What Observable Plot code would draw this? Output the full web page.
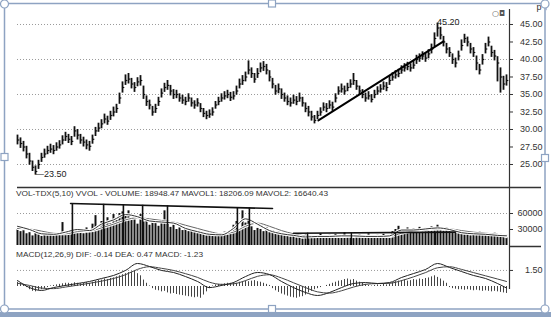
<!DOCTYPE html>
<html><head><meta charset="utf-8">
<script src="https://cdn.jsdelivr.net/npm/d3@7"></script>
<script src="https://cdn.jsdelivr.net/npm/@observablehq/plot@0.6"></script>
<style>
html,body{margin:0;padding:0;background:#fff;}
#root{position:relative;width:551px;height:317px;overflow:hidden;background:#fff;font-family:"Liberation Sans",Arial,sans-serif;}
#root > svg{position:absolute;left:0;}
</style></head><body><div id="root"></div>
<script>
// ---- price bars (one per trading day) ----
const close = [28.5,28.0,27.5,26.5,25.5,24.6,24.0,25.0,26.0,26.5,27.0,27.2,27.0,27.5,27.8,28.5,29.0,28.6,28.3,29.8,
29.2,28.5,28.2,27.8,27.6,28.6,29.8,30.2,30.8,31.5,31.2,32.0,32.5,33.0,34.5,36.0,37.0,37.2,36.5,36.0,
36.8,37.0,35.0,34.0,33.5,32.5,33.0,34.0,35.2,36.0,36.3,35.5,35.0,35.0,34.5,34.2,34.0,34.5,33.8,33.5,
33.8,33.0,32.3,32.0,32.2,32.5,33.5,34.0,34.5,34.8,35.0,34.6,34.8,35.5,36.5,37.0,37.5,38.5,38.0,37.2,
38.0,38.8,39.0,38.5,37.5,36.5,35.5,35.8,35.0,34.5,34.0,33.8,34.2,34.0,34.5,33.8,33.0,32.5,31.8,31.3,
32.0,32.5,33.2,33.0,33.5,33.2,34.5,35.5,35.8,35.5,36.0,36.5,37.0,36.2,35.5,35.0,34.5,34.8,34.3,35.0,
35.5,35.8,36.2,36.0,37.0,37.5,37.8,38.0,38.5,38.8,39.0,38.8,39.2,40.0,40.2,40.5,40.2,40.8,41.5,43.0,
44.5,43.5,42.5,41.5,41.0,40.0,39.5,40.5,42.0,43.0,42.5,41.5,41.0,39.5,38.5,40.0,41.5,42.5,41.0,40.5,
39.5,37.5,36.5,37.0];
const high = [29.2,28.8,28.3,27.6,26.6,25.5,24.8,25.6,26.6,27.2,27.6,27.9,27.7,28.1,28.4,29.1,29.6,29.3,29.0,30.4,
30.0,29.3,28.9,28.5,28.3,29.2,30.3,30.9,31.4,32.2,31.9,32.6,33.2,33.6,35.2,36.8,37.8,38.0,37.3,36.7,
37.4,37.7,36.2,34.8,34.2,33.3,33.6,34.6,35.8,36.6,37.0,36.3,35.7,35.6,35.1,34.9,34.6,35.1,34.5,34.1,
34.4,33.7,33.0,32.6,32.8,33.1,34.0,34.6,35.1,35.4,35.6,35.3,35.4,36.2,37.2,37.7,38.2,39.8,38.8,38.0,
38.7,39.5,39.7,39.3,38.4,37.3,36.3,36.5,35.8,35.2,34.8,34.5,34.9,34.7,35.2,34.6,33.8,33.3,32.6,32.0,
32.6,33.1,33.8,33.7,34.1,33.9,35.1,36.1,36.5,36.2,36.6,37.1,38.0,37.0,36.2,35.7,35.2,35.4,35.0,35.6,
36.1,36.4,36.8,36.7,37.6,38.1,38.4,38.6,39.1,39.4,39.6,39.4,39.8,40.6,40.8,41.1,40.9,41.4,42.2,43.8,
45.2,44.6,43.3,42.3,41.7,40.8,40.2,41.2,42.8,43.6,43.2,42.3,41.7,40.5,39.3,40.7,42.3,43.2,41.9,41.3,
40.4,38.8,37.6,37.8];
const low = [27.8,27.3,26.8,25.8,24.9,24.0,23.5,24.3,25.3,25.9,26.4,26.6,26.4,26.9,27.2,27.8,28.3,28.0,27.7,28.9,
28.5,27.9,27.5,27.1,26.9,27.9,29.0,29.6,30.1,30.8,30.6,31.3,31.8,32.3,33.6,35.2,36.3,36.5,35.8,35.3,
36.1,36.2,34.3,33.3,32.8,31.9,32.3,33.3,34.5,35.3,35.6,34.8,34.3,34.4,33.9,33.6,33.4,33.9,33.2,32.9,
33.2,32.4,31.7,31.4,31.6,31.9,32.9,33.4,33.9,34.2,34.4,34.0,34.2,34.9,35.8,36.3,36.8,37.8,37.3,36.6,
37.3,38.1,38.3,37.8,36.8,35.8,34.9,35.1,34.3,33.9,33.4,33.2,33.6,33.4,33.9,33.2,32.4,31.8,31.2,30.8,
31.4,31.9,32.6,32.4,32.9,32.6,33.8,34.9,35.2,34.9,35.4,35.9,36.3,35.6,34.9,34.4,33.9,34.2,33.8,34.4,
34.9,35.2,35.6,35.4,36.3,36.9,37.2,37.4,37.9,38.2,38.4,38.2,38.6,39.3,39.6,39.9,39.6,40.1,40.8,41.8,
43.2,42.8,41.8,40.8,40.3,39.3,38.8,39.8,41.2,42.3,41.8,40.8,40.3,38.4,37.8,39.2,40.8,41.8,40.3,39.8,
36.8,35.2,35.6,36.2];
// ---- volume (thousands) ----
const volume = [30,26,28,22,24,18,26,20,17,22,19,
21,18,24,20,43,25,22,28,
30,24,28,22,33,26,40,56,32,
45,38,52,41,58,47,60,63,55,65,48,52,40,58,
44,50,38,46,42,36,48,65,40,34,38,30,33,28,
30,26,29,24,22,27,20,18,23,17,21,19,22,25,20,
24,38,45,30,65,42,50,35,28,32,
30,26,34,24,28,22,25,20,18,22,16,19,
14,17,12,20,15,18,13,16,22,14,17,19,15,21,18,14,24,16,19,13,17,20,15,18,22,16,14,19,17,21,15,18,
26,30,36,24,28,33,27,31,25,34,29,32,28,35,31,38,30,27,33,29,26,
24,22,27,20,25,18,23,21,26,19,22,17,20,24,18,21,16,19];
// moving averages read every 4th bar (bar numbers in avgBars)
const avgBars = [0,4,8,12,16,20,24,28,32,36,40,44,48,52,56,60,64,68,72,76,80,84,88,92,96,100,104,108,112,116,120,124,128,132,136,140,144,148,152,156,160,163];
const mavol1 = [36,30,22,21,25,30,28,40,48,58,54,46,44,42,32,26,21,20,32,50,40,28,22,19,16,17,17,18,18,17,17,18,29,29,31,33,30,24,22,21,19,18.2];
const mavol2 = [32,31,27,23,22,26,27,33,40,48,52,50,47,44,38,32,26,22,25,36,42,36,28,22,18,17,17,17,18,18,17,17,23,27,29,31,31,28,25,23,21,16.6];
// ---- MACD ----
const dif = [0.56,-0.1,-0.37,-0.1,0.1,0.28,0.47,0.75,1.03,1.5,2.15,1.87,1.5,1.31,0.93,0.47,-0.1,0.1,0.37,0.93,1.31,1.12,0.47,-0.1,-0.56,-0.84,-0.56,-0.1,0.28,0.37,0.28,0.37,0.84,1.21,1.59,2.15,1.78,1.4,1.03,0.75,0.28,-0.14];
const dea = [0.3,0.1,-0.15,-0.2,-0.05,0.12,0.3,0.5,0.75,1.1,1.6,1.85,1.7,1.5,1.2,0.85,0.4,0.2,0.25,0.55,0.95,1.1,0.8,0.35,-0.1,-0.5,-0.62,-0.4,-0.05,0.2,0.28,0.3,0.55,0.9,1.3,1.75,1.85,1.6,1.3,1.0,0.7,0.47];
const macdHist = [0.4,0.3,0.2,
-0.1,-0.3,-0.45,-0.5,-0.4,
-0.3,-0.2,-0.1,0.05,
0.1,0.15,0.2,0.25,0.3,0.3,0.25,0.35,0.3,0.25,0.3,0.35,0.3,
0.4,0.5,0.55,0.6,0.7,0.65,0.75,0.8,0.9,1.0,1.1,1.2,1.3,1.35,1.4,1.2,1.0,
0.6,0.3,0.05,
-0.2,-0.35,-0.4,-0.5,-0.45,-0.6,-0.7,-0.65,-0.75,-0.8,-0.85,-0.9,-0.95,-1.0,-1.05,-1.0,-1.1,-0.8,-0.5,
-0.2,0.05,0.15,0.2,0.2,0.25,0.3,0.3,0.35,0.3,0.4,0.45,0.5,0.45,0.5,0.55,0.45,0.4,0.3,0.2,0.1,
-0.2,-0.4,-0.55,-0.7,-0.8,-0.9,-1.0,-1.05,-1.1,-1.0,-0.95,-0.8,-0.6,-0.45,-0.3,
-0.2,-0.1,0.0,0.1,0.2,0.3,
0.4,0.5,0.55,0.65,0.7,0.6,0.65,0.5,0.4,0.3,0.2,
0.1,0.05,0.1,0.15,0.1,0.2,0.15,0.25,
0.35,0.45,0.5,0.55,0.6,0.5,0.55,0.65,0.6,0.7,0.65,0.75,0.8,0.9,1.0,0.85,0.7,0.5,0.3,
-0.1,-0.2,-0.25,-0.3,-0.3,-0.35,-0.3,-0.35,-0.4,-0.35,-0.4,-0.45,-0.4,-0.45,-0.5,-0.45,-0.5,-0.55,-0.6,-0.65];
// ---- ticks, grid, annotations ----
const priceTicks = [25,27.5,30,32.5,35,37.5,40,42.5,45];
const priceGrid = [25,30,35,40,45];
const volTicks = [30,60];
const volGrid = [60];
const macdTicks = [1.5];
const priceTrend = [{bar:100.3,p:31.3},{bar:142,p:42.6}];
const priceLabels = [{bar:6,p:23.5,t:"—23.50",dx:-2,dy:5},{bar:140,p:45.2,t:"45.20",dx:11,dy:4}];
const volTopLine = [{bar:17.7,v:78.75},{bar:85,v:69.4}];
const volTopDrops = [{bar:18.3,v:78.67},{bar:28.7,v:77.2},{bar:35.3,v:76.3},{bar:41.7,v:75.4},{bar:50,v:74.3},{bar:73.3,v:71.0},{bar:77.3,v:70.5}];
const volLowLine = [{bar:92,v:23},{bar:146,v:25}];
const volLowDrops = [{bar:96.7,v:23.2},{bar:111.3,v:23.7},{bar:126,v:24.3},{bar:139.3,v:24.8}];

const root = document.getElementById("root");
const bars = d3.range(close.length);
const avgData = avgBars.map((b,k)=>({bar:b, m1:mavol1[k], m2:mavol2[k], dif:dif[k], dea:dea[k]}));
const xOpt = {domain:[0,164], axis:null};
const style = {fontSize:"9px", fontFamily:"Liberation Sans, Arial, sans-serif", color:"#333", background:"transparent", overflow:"visible"};
const axisOpt = {anchor:"right", tickSize:3, tickPadding:30, textAnchor:"end"};
const dotted = {stroke:"#9a9a9a", strokeDasharray:"1,2", strokeWidth:1};

const price = Plot.plot({
  width:551, height:187, marginLeft:17, marginRight:42, marginTop:0, marginBottom:0,
  style, x:xOpt, y:{domain:[21.714,48.4286], axis:null},
  marks:[
    Plot.ruleY(priceGrid, dotted),
    Plot.axisY(priceTicks, {...axisOpt, tickFormat:d=>d.toFixed(2)}),
    Plot.ruleX(bars, {x:i=>i, y1:i=>low[i], y2:i=>high[i], stroke:"#111", strokeWidth:1.8}),
    Plot.link(bars, {x1:i=>i, x2:i=>i+0.6, y1:i=>close[i], y2:i=>close[i], stroke:"#111", strokeWidth:1.2}),
    Plot.line(priceTrend, {x:"bar", y:"p", stroke:"#000", strokeWidth:2}),
    Plot.text(priceLabels, {x:"bar", y:"p", text:"t", dx:d=>d.dx, dy:d=>d.dy, textAnchor:"start", fontSize:9, fill:"#222"})
  ]
});
price.style.top = "0px";
root.appendChild(price);

const vol = Plot.plot({
  width:551, height:59, marginLeft:17, marginRight:42, marginTop:0, marginBottom:0,
  style, x:xOpt, y:{domain:[-1.875,108.75], axis:null},
  marks:[
    Plot.ruleY(volGrid, dotted),
    Plot.axisY(volTicks, {...axisOpt, tickFormat:d=>String(d*1000)}),
    Plot.ruleX(bars, {x:i=>i, y1:0, y2:i=>volume[i], stroke:"#111", strokeWidth:2}),
    Plot.line(avgData, {x:"bar", y:"m2", stroke:"#fff", strokeWidth:3, curve:"monotone-x"}),
    Plot.line(avgData, {x:"bar", y:"m2", stroke:"#666", strokeWidth:1, curve:"monotone-x"}),
    Plot.line(avgData, {x:"bar", y:"m1", stroke:"#fff", strokeWidth:3, curve:"monotone-x"}),
    Plot.line(avgData, {x:"bar", y:"m1", stroke:"#333", strokeWidth:1, curve:"monotone-x"}),
    Plot.line(volTopLine, {x:"bar", y:"v", stroke:"#111", strokeWidth:1.6}),
    Plot.ruleX(volTopDrops, {x:"bar", y1:0, y2:"v", stroke:"#111", strokeWidth:1.6}),
    Plot.line(volLowLine, {x:"bar", y:"v", stroke:"#111", strokeWidth:1.6}),
    Plot.ruleX(volLowDrops, {x:"bar", y1:0, y2:"v", stroke:"#111", strokeWidth:1.4})
  ]
});
vol.style.top = "187px";
root.appendChild(vol);

const macd = Plot.plot({
  width:551, height:53, marginLeft:17, marginRight:42, marginTop:0, marginBottom:0,
  style, x:xOpt, y:{domain:[-1.3084,3.6449], axis:null},
  marks:[
    Plot.ruleY(macdTicks, dotted),
    Plot.axisY(macdTicks, {...axisOpt, tickFormat:d=>d.toFixed(2)}),
    Plot.ruleX(bars, {x:i=>i, y1:0, y2:i=>macdHist[i], stroke:"#444", strokeWidth:1}),
    Plot.line(avgData, {x:"bar", y:"dea", stroke:"#444", strokeWidth:1, curve:"monotone-x"}),
    Plot.line(avgData, {x:"bar", y:"dif", stroke:"#222", strokeWidth:1, curve:"monotone-x"})
  ]
});
macd.style.top = "247px";
root.appendChild(macd);

// ---- decoration overlay: panel rules, headers, window frame ----
const NS = "http://www.w3.org/2000/svg";
const ov = document.createElementNS(NS, "svg");
ov.setAttribute("width", 551); ov.setAttribute("height", 317);
ov.style.top = "0px"; ov.style.pointerEvents = "none";
function add(tag, attrs, txt) {
  const e = document.createElementNS(NS, tag);
  for (const k in attrs) e.setAttribute(k, attrs[k]);
  if (txt != null) e.textContent = txt;
  ov.appendChild(e); return e;
}
add("line", {x1:17, y1:187.5, x2:541, y2:187.5, stroke:"#333", "stroke-width":1.5});
add("line", {x1:509, y1:246.5, x2:541, y2:246.5, stroke:"#333", "stroke-width":1.5});
add("line", {x1:509.5, y1:9, x2:509.5, y2:289, stroke:"#333", "stroke-width":1.2});
const tf = {"font-family":"Liberation Sans, Arial, sans-serif", fill:"#333", "font-size":8, "lengthAdjust":"spacingAndGlyphs"};
add("text", {...tf, x:16, y:196, textLength:312}, "VOL-TDX(5,10) VVOL -  VOLUME: 18948.47  MAVOL1: 18206.09  MAVOL2: 16640.43");
add("text", {...tf, x:16, y:257, textLength:187}, "MACD(12,26,9) DIF: -0.14  DEA: 0.47  MACD: -1.23");
add("text", {"font-family":"DejaVu Sans, sans-serif", fill:"#555", "font-size":8, x:492, y:16}, "○◘");
// window frame
add("rect", {x:4.5, y:3.5, width:540.5, height:305.5, fill:"none", stroke:"#8ea3c2", "stroke-width":1.5});
add("rect", {x:0, y:312, width:551, height:5, fill:"#8ea3c2"});
const handles = [[4.5,4,"c"],[272,3.5,"s"],[545,4,"c"],[545,158,"s"],[545,309,"c"],[272,309,"s"],[4.5,309,"c"],[4.5,157,"s"]];
for (const [hx,hy,t] of handles) {
  if (t === "c") add("circle", {cx:hx, cy:hy, r:4, fill:"#fff", stroke:"#8ea3c2", "stroke-width":1.2});
  else add("rect", {x:hx-3.5, y:hy-3.5, width:7, height:7, fill:"#fff", stroke:"#8ea3c2", "stroke-width":1.2});
}
root.appendChild(ov);
</script></body></html>
